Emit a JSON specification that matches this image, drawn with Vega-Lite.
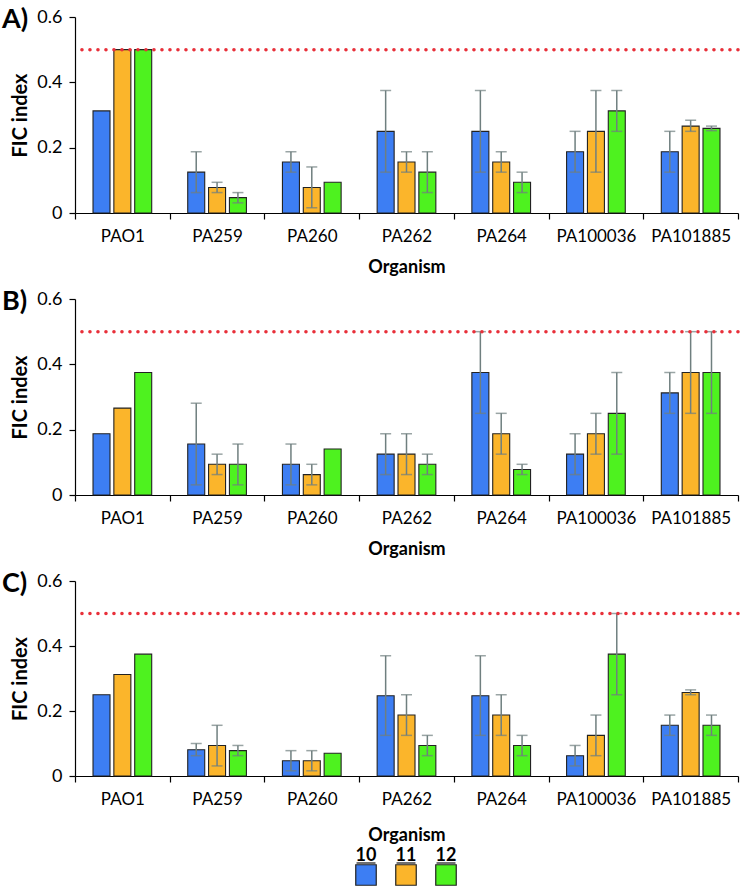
{
  "$schema": "https://vega.github.io/schema/vega-lite/v6.json",
  "padding": {"left": 2, "top": 6, "right": 0, "bottom": 0},
  "background": "white",
  "config": {
    "view": {"stroke": null},
    "font": "Lato",
    "axis": {"labelFont": "Lato", "titleFont": "Lato", "labelFontSize": 17, "titleFontSize": 18, "titleFontWeight": "bold", "labelColor": "#000", "titleColor": "#000", "domainColor": "#000", "tickColor": "#000", "grid": false, "domainWidth": 1.2, "tickWidth": 1.2},
    "axisY": {"titleFontSize": 20, "labelFontSize": 18}
  },
  "datasets": {
    "fic": [
      {"p": "A", "o": "PAO1", "s": "10", "v": 0.3125, "lo": null, "hi": null},
      {"p": "A", "o": "PAO1", "s": "11", "v": 0.5, "lo": null, "hi": null},
      {"p": "A", "o": "PAO1", "s": "12", "v": 0.5, "lo": null, "hi": null},
      {"p": "A", "o": "PA259", "s": "10", "v": 0.125, "lo": 0.0625, "hi": 0.1875},
      {"p": "A", "o": "PA259", "s": "11", "v": 0.078, "lo": 0.0625, "hi": 0.094},
      {"p": "A", "o": "PA259", "s": "12", "v": 0.047, "lo": 0.031, "hi": 0.0625},
      {"p": "A", "o": "PA260", "s": "10", "v": 0.156, "lo": 0.125, "hi": 0.1875},
      {"p": "A", "o": "PA260", "s": "11", "v": 0.078, "lo": 0.016, "hi": 0.141},
      {"p": "A", "o": "PA260", "s": "12", "v": 0.094, "lo": null, "hi": null},
      {"p": "A", "o": "PA262", "s": "10", "v": 0.25, "lo": 0.125, "hi": 0.375},
      {"p": "A", "o": "PA262", "s": "11", "v": 0.156, "lo": 0.125, "hi": 0.1875},
      {"p": "A", "o": "PA262", "s": "12", "v": 0.125, "lo": 0.0625, "hi": 0.1875},
      {"p": "A", "o": "PA264", "s": "10", "v": 0.25, "lo": 0.125, "hi": 0.375},
      {"p": "A", "o": "PA264", "s": "11", "v": 0.156, "lo": 0.125, "hi": 0.1875},
      {"p": "A", "o": "PA264", "s": "12", "v": 0.094, "lo": 0.0625, "hi": 0.125},
      {"p": "A", "o": "PA100036", "s": "10", "v": 0.1875, "lo": 0.125, "hi": 0.25},
      {"p": "A", "o": "PA100036", "s": "11", "v": 0.25, "lo": 0.125, "hi": 0.375},
      {"p": "A", "o": "PA100036", "s": "12", "v": 0.3125, "lo": 0.25, "hi": 0.375},
      {"p": "A", "o": "PA101885", "s": "10", "v": 0.1875, "lo": 0.125, "hi": 0.25},
      {"p": "A", "o": "PA101885", "s": "11", "v": 0.266, "lo": 0.25, "hi": 0.284},
      {"p": "A", "o": "PA101885", "s": "12", "v": 0.259, "lo": 0.252, "hi": 0.266},
      {"p": "B", "o": "PAO1", "s": "10", "v": 0.1875, "lo": null, "hi": null},
      {"p": "B", "o": "PAO1", "s": "11", "v": 0.266, "lo": null, "hi": null},
      {"p": "B", "o": "PAO1", "s": "12", "v": 0.375, "lo": null, "hi": null},
      {"p": "B", "o": "PA259", "s": "10", "v": 0.156, "lo": 0.031, "hi": 0.281},
      {"p": "B", "o": "PA259", "s": "11", "v": 0.094, "lo": 0.0625, "hi": 0.125},
      {"p": "B", "o": "PA259", "s": "12", "v": 0.094, "lo": 0.031, "hi": 0.156},
      {"p": "B", "o": "PA260", "s": "10", "v": 0.094, "lo": 0.031, "hi": 0.156},
      {"p": "B", "o": "PA260", "s": "11", "v": 0.0625, "lo": 0.031, "hi": 0.094},
      {"p": "B", "o": "PA260", "s": "12", "v": 0.141, "lo": null, "hi": null},
      {"p": "B", "o": "PA262", "s": "10", "v": 0.125, "lo": 0.0625, "hi": 0.1875},
      {"p": "B", "o": "PA262", "s": "11", "v": 0.125, "lo": 0.0625, "hi": 0.1875},
      {"p": "B", "o": "PA262", "s": "12", "v": 0.094, "lo": 0.0625, "hi": 0.125},
      {"p": "B", "o": "PA264", "s": "10", "v": 0.375, "lo": 0.25, "hi": 0.5},
      {"p": "B", "o": "PA264", "s": "11", "v": 0.1875, "lo": 0.125, "hi": 0.25},
      {"p": "B", "o": "PA264", "s": "12", "v": 0.078, "lo": 0.0625, "hi": 0.094},
      {"p": "B", "o": "PA100036", "s": "10", "v": 0.125, "lo": 0.0625, "hi": 0.1875},
      {"p": "B", "o": "PA100036", "s": "11", "v": 0.1875, "lo": 0.125, "hi": 0.25},
      {"p": "B", "o": "PA100036", "s": "12", "v": 0.25, "lo": 0.125, "hi": 0.375},
      {"p": "B", "o": "PA101885", "s": "10", "v": 0.3125, "lo": 0.25, "hi": 0.375},
      {"p": "B", "o": "PA101885", "s": "11", "v": 0.375, "lo": 0.25, "hi": 0.5},
      {"p": "B", "o": "PA101885", "s": "12", "v": 0.375, "lo": 0.25, "hi": 0.5},
      {"p": "C", "o": "PAO1", "s": "10", "v": 0.25, "lo": null, "hi": null},
      {"p": "C", "o": "PAO1", "s": "11", "v": 0.3125, "lo": null, "hi": null},
      {"p": "C", "o": "PAO1", "s": "12", "v": 0.375, "lo": null, "hi": null},
      {"p": "C", "o": "PA259", "s": "10", "v": 0.081, "lo": 0.0625, "hi": 0.1},
      {"p": "C", "o": "PA259", "s": "11", "v": 0.094, "lo": 0.031, "hi": 0.156},
      {"p": "C", "o": "PA259", "s": "12", "v": 0.078, "lo": 0.0625, "hi": 0.094},
      {"p": "C", "o": "PA260", "s": "10", "v": 0.047, "lo": 0.016, "hi": 0.078},
      {"p": "C", "o": "PA260", "s": "11", "v": 0.047, "lo": 0.016, "hi": 0.078},
      {"p": "C", "o": "PA260", "s": "12", "v": 0.07, "lo": null, "hi": null},
      {"p": "C", "o": "PA262", "s": "10", "v": 0.247, "lo": 0.125, "hi": 0.37},
      {"p": "C", "o": "PA262", "s": "11", "v": 0.1875, "lo": 0.125, "hi": 0.25},
      {"p": "C", "o": "PA262", "s": "12", "v": 0.094, "lo": 0.0625, "hi": 0.125},
      {"p": "C", "o": "PA264", "s": "10", "v": 0.247, "lo": 0.125, "hi": 0.37},
      {"p": "C", "o": "PA264", "s": "11", "v": 0.1875, "lo": 0.125, "hi": 0.25},
      {"p": "C", "o": "PA264", "s": "12", "v": 0.094, "lo": 0.0625, "hi": 0.125},
      {"p": "C", "o": "PA100036", "s": "10", "v": 0.0625, "lo": 0.031, "hi": 0.094},
      {"p": "C", "o": "PA100036", "s": "11", "v": 0.125, "lo": 0.0625, "hi": 0.1875},
      {"p": "C", "o": "PA100036", "s": "12", "v": 0.375, "lo": 0.25, "hi": 0.5},
      {"p": "C", "o": "PA101885", "s": "10", "v": 0.156, "lo": 0.125, "hi": 0.1875},
      {"p": "C", "o": "PA101885", "s": "11", "v": 0.257, "lo": 0.25, "hi": 0.265},
      {"p": "C", "o": "PA101885", "s": "12", "v": 0.156, "lo": 0.125, "hi": 0.1875}
    ],
    "leg": [{"s": "10", "n": 10}, {"s": "11", "n": 11}, {"s": "12", "n": 12}],
    "thr": [{"t": 0.5}]
  },
  "spacing": 12,
  "vconcat": [
    {
      "width": 663, "height": 196,
      "title": {"text": "A)", "anchor": "start", "frame": "group", "orient": "top", "dx": -73, "offset": -39, "baseline": "middle", "fontSize": 27, "fontWeight": "bold", "font": "Lato", "color": "#000"},
      "layer": [
        {
          "data": {"name": "fic"},
          "transform": [{"filter": "datum.p == 'A'"}],
          "layer": [
            {"mark": {"type": "bar", "stroke": "#222", "strokeWidth": 1.1},
             "encoding": {
               "x": {"field": "o", "type": "nominal", "sort": null, "scale": {"paddingInner": 0, "paddingOuter": 0}, "axis": {"title": "Organism", "labelAngle": 0, "tickBand": "extent", "tickSize": 6, "labelPadding": 9, "titlePadding": 14}},
               "xOffset": {"field": "s", "type": "nominal", "scale": {"paddingInner": 0.185, "paddingOuter": 0.864}},
               "y": {"field": "v", "type": "quantitative", "scale": {"domain": [0, 0.6], "nice": false}, "axis": {"title": "FIC index", "values": [0, 0.2, 0.4, 0.6], "format": ".1~f", "tickSize": 6, "labelPadding": 7, "titlePadding": 6}},
               "color": {"field": "s", "type": "nominal", "scale": {"domain": ["10", "11", "12"], "range": ["#3d7ef3", "#fbb52b", "#4ef21f"]}, "legend": null}
             }},
            {"mark": {"type": "rule", "color": "#6f7f7f", "strokeWidth": 1.5},
             "encoding": {"x": {"field": "o", "type": "nominal", "sort": null}, "xOffset": {"field": "s", "type": "nominal"}, "y": {"field": "lo", "type": "quantitative"}, "y2": {"field": "hi"}}},
            {"mark": {"type": "tick", "color": "#6f7f7f", "thickness": 1.5, "size": 11},
             "encoding": {"x": {"field": "o", "type": "nominal", "sort": null}, "xOffset": {"field": "s", "type": "nominal"}, "y": {"field": "lo", "type": "quantitative"}}},
            {"mark": {"type": "tick", "color": "#6f7f7f", "thickness": 1.5, "size": 11},
             "encoding": {"x": {"field": "o", "type": "nominal", "sort": null}, "xOffset": {"field": "s", "type": "nominal"}, "y": {"field": "hi", "type": "quantitative"}}}
          ]
        },
        {"data": {"name": "thr"}, "mark": {"type": "rule", "color": "#e8303a", "strokeWidth": 3.5, "strokeDash": [0.1, 7.9], "strokeCap": "round"},
         "encoding": {"y": {"field": "t", "type": "quantitative"}}}
      ]
    },
    {
      "width": 663, "height": 196,
      "title": {"text": "B)", "anchor": "start", "frame": "group", "orient": "top", "dx": -73, "offset": -39, "baseline": "middle", "fontSize": 27, "fontWeight": "bold", "font": "Lato", "color": "#000"},
      "layer": [
        {
          "data": {"name": "fic"},
          "transform": [{"filter": "datum.p == 'B'"}],
          "layer": [
            {"mark": {"type": "bar", "stroke": "#222", "strokeWidth": 1.1},
             "encoding": {
               "x": {"field": "o", "type": "nominal", "sort": null, "scale": {"paddingInner": 0, "paddingOuter": 0}, "axis": {"title": "Organism", "labelAngle": 0, "tickBand": "extent", "tickSize": 6, "labelPadding": 9, "titlePadding": 14}},
               "xOffset": {"field": "s", "type": "nominal", "scale": {"paddingInner": 0.185, "paddingOuter": 0.864}},
               "y": {"field": "v", "type": "quantitative", "scale": {"domain": [0, 0.6], "nice": false}, "axis": {"title": "FIC index", "values": [0, 0.2, 0.4, 0.6], "format": ".1~f", "tickSize": 6, "labelPadding": 7, "titlePadding": 6}},
               "color": {"field": "s", "type": "nominal", "scale": {"domain": ["10", "11", "12"], "range": ["#3d7ef3", "#fbb52b", "#4ef21f"]}, "legend": null}
             }},
            {"mark": {"type": "rule", "color": "#6f7f7f", "strokeWidth": 1.5},
             "encoding": {"x": {"field": "o", "type": "nominal", "sort": null}, "xOffset": {"field": "s", "type": "nominal"}, "y": {"field": "lo", "type": "quantitative"}, "y2": {"field": "hi"}}},
            {"mark": {"type": "tick", "color": "#6f7f7f", "thickness": 1.5, "size": 11},
             "encoding": {"x": {"field": "o", "type": "nominal", "sort": null}, "xOffset": {"field": "s", "type": "nominal"}, "y": {"field": "lo", "type": "quantitative"}}},
            {"mark": {"type": "tick", "color": "#6f7f7f", "thickness": 1.5, "size": 11},
             "encoding": {"x": {"field": "o", "type": "nominal", "sort": null}, "xOffset": {"field": "s", "type": "nominal"}, "y": {"field": "hi", "type": "quantitative"}}}
          ]
        },
        {"data": {"name": "thr"}, "mark": {"type": "rule", "color": "#e8303a", "strokeWidth": 3.5, "strokeDash": [0.1, 7.9], "strokeCap": "round"},
         "encoding": {"y": {"field": "t", "type": "quantitative"}}}
      ]
    },
    {
      "spacing": 3,
      "vconcat": [
        {
          "width": 663, "height": 195,
          "title": {"text": "C)", "anchor": "start", "frame": "group", "orient": "top", "dx": -73, "offset": -39, "baseline": "middle", "fontSize": 27, "fontWeight": "bold", "font": "Lato", "color": "#000"},
          "layer": [
            {
              "data": {"name": "fic"},
              "transform": [{"filter": "datum.p == 'C'"}],
              "layer": [
                {"mark": {"type": "bar", "stroke": "#222", "strokeWidth": 1.1},
                 "encoding": {
                   "x": {"field": "o", "type": "nominal", "sort": null, "scale": {"paddingInner": 0, "paddingOuter": 0}, "axis": {"title": "Organism", "labelAngle": 0, "tickBand": "extent", "tickSize": 6, "labelPadding": 9, "titlePadding": 19}},
                   "xOffset": {"field": "s", "type": "nominal", "scale": {"paddingInner": 0.185, "paddingOuter": 0.864}},
                   "y": {"field": "v", "type": "quantitative", "scale": {"domain": [0, 0.6], "nice": false}, "axis": {"title": "FIC index", "values": [0, 0.2, 0.4, 0.6], "format": ".1~f", "tickSize": 6, "labelPadding": 7, "titlePadding": 6}},
                   "color": {"field": "s", "type": "nominal", "scale": {"domain": ["10", "11", "12"], "range": ["#3d7ef3", "#fbb52b", "#4ef21f"]}, "legend": null}
                 }},
                {"mark": {"type": "rule", "color": "#6f7f7f", "strokeWidth": 1.5},
                 "encoding": {"x": {"field": "o", "type": "nominal", "sort": null}, "xOffset": {"field": "s", "type": "nominal"}, "y": {"field": "lo", "type": "quantitative"}, "y2": {"field": "hi"}}},
                {"mark": {"type": "tick", "color": "#6f7f7f", "thickness": 1.5, "size": 11},
                 "encoding": {"x": {"field": "o", "type": "nominal", "sort": null}, "xOffset": {"field": "s", "type": "nominal"}, "y": {"field": "lo", "type": "quantitative"}}},
                {"mark": {"type": "tick", "color": "#6f7f7f", "thickness": 1.5, "size": 11},
                 "encoding": {"x": {"field": "o", "type": "nominal", "sort": null}, "xOffset": {"field": "s", "type": "nominal"}, "y": {"field": "hi", "type": "quantitative"}}}
              ]
            },
            {"data": {"name": "thr"}, "mark": {"type": "rule", "color": "#e8303a", "strokeWidth": 3.5, "strokeDash": [0.1, 7.9], "strokeCap": "round"},
             "encoding": {"y": {"field": "t", "type": "quantitative"}}}
          ]
        },
        {
          "width": 663, "height": 20,
          "data": {"name": "leg"},
          "layer": [
            {"mark": {"type": "square", "size": 420, "opacity": 1, "filled": true, "stroke": "#222", "strokeWidth": 1.2},
             "encoding": {
               "x": {"field": "n", "type": "quantitative", "scale": {"domain": [2.725, 19.3], "nice": false, "zero": false}, "axis": null},
               "color": {"field": "s", "type": "nominal", "scale": {"domain": ["10", "11", "12"], "range": ["#3d7ef3", "#fbb52b", "#4ef21f"]}, "legend": null}
             }},
            {"mark": {"type": "tick", "orient": "horizontal", "size": 19, "thickness": 1.6, "yOffset": -12, "color": "#000"},
             "encoding": {"x": {"field": "n", "type": "quantitative"}}},
            {"mark": {"type": "text", "dy": -14, "baseline": "alphabetic", "fontWeight": "bold", "fontSize": 18, "font": "Lato", "color": "#000"},
             "encoding": {
               "x": {"field": "n", "type": "quantitative"},
               "text": {"field": "s"}
             }}
          ]
        }
      ]
    }
  ]
}
